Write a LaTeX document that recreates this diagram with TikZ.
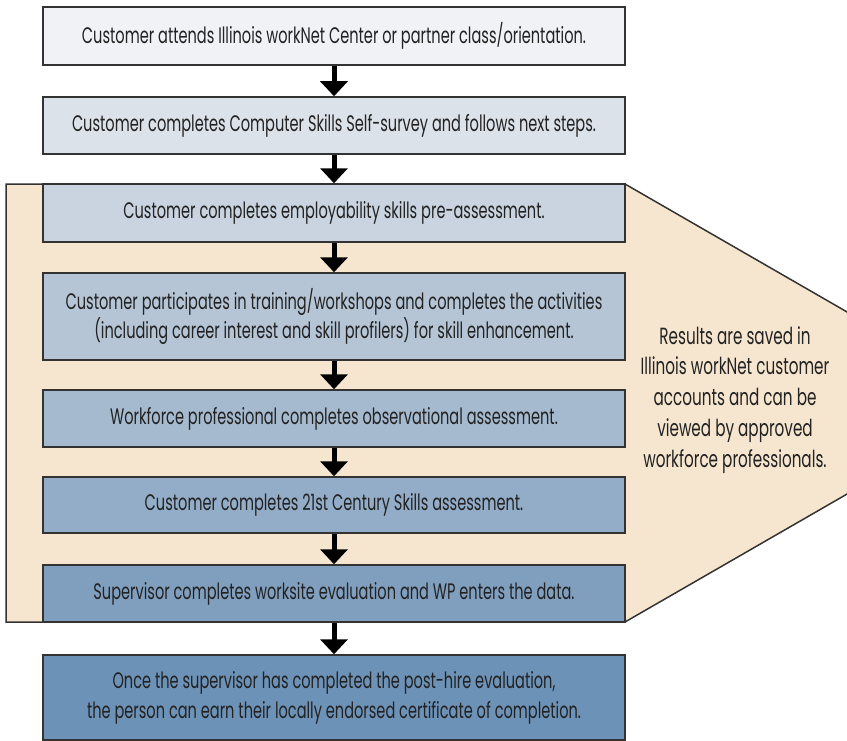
\documentclass[tikz,border=0pt]{standalone}
\usepackage{fontspec}
\setmainfont{Poppins}[FakeStretch=0.65]
\usetikzlibrary{arrows.meta}
\definecolor{tan}{HTML}{F6E6D0}
\definecolor{edge}{HTML}{333333}
\definecolor{ink}{HTML}{222222}
\definecolor{cA}{HTML}{F0F2F6}
\definecolor{cB}{HTML}{DCE2EA}
\definecolor{cC}{HTML}{C9D4E0}
\definecolor{cD}{HTML}{B5C5D6}
\definecolor{cE}{HTML}{A5BACF}
\definecolor{cF}{HTML}{93ADC8}
\definecolor{cG}{HTML}{809FBF}
\definecolor{cH}{HTML}{6D92B7}
\tikzset{
  stepbox/.style={draw=edge, line width=1.5bp, minimum width=582bp, inner sep=0pt,
    align=center, text=ink, font=\fontsize{22.5}{30}\selectfont},
  flowarrow/.style={draw=black, line width=5bp,
    -{Triangle[width=27bp,length=15bp]}},
}
\begin{document}
\begin{tikzpicture}[x=1bp,y=-1bp]
\useasboundingbox (0,0) rectangle (847,741);
\begin{scope}
\clip (0,0) rectangle (847,741);
\draw[fill=tan, draw=edge, line width=1.5bp] (6,184) -- (625,184) -- (1005,403) -- (625,622) -- (6,622) -- cycle;
\end{scope}
\node[stepbox, fill=cA, minimum height=58bp] (b1) at (334,36) {Customer attends Illinois workNet Center or partner class/orientation.};
\node[stepbox, fill=cB, minimum height=57bp] (b2) at (334,125.5) {Customer completes Computer Skills Self-survey and follows next steps.};
\node[stepbox, fill=cC, minimum height=58bp] (b3) at (334,213) {Customer completes employability skills pre-assessment.};
\node[stepbox, fill=cD, minimum height=87bp] (b4) at (334,316.5) {Customer participates in training/workshops and completes the activities\\(including career interest and skill profilers) for skill enhancement.};
\node[stepbox, fill=cE, minimum height=57bp] (b5) at (334,418.5) {Workforce professional completes observational assessment.};
\node[stepbox, fill=cF, minimum height=56bp] (b6) at (334,505) {Customer completes 21st Century Skills assessment.};
\node[stepbox, fill=cG, minimum height=57bp] (b7) at (334,593.5) {Supervisor completes worksite evaluation and WP enters the data.};
\node[stepbox, fill=cH, minimum height=85bp] (b8) at (334,697.5) {Once the supervisor has completed the post-hire evaluation,\\the person can earn their locally endorsed certificate of completion.};
\node[align=center, text=ink, font=\fontsize{23.5}{31}\selectfont] (note) at (735,400) {Results are saved in\\Illinois workNet customer\\accounts and can be\\viewed by approved\\workforce professionals.};
\draw[flowarrow] (b1) -- (b2);
\draw[flowarrow] (b2) -- (b3);
\draw[flowarrow] (b3) -- (b4);
\draw[flowarrow] (b4) -- (b5);
\draw[flowarrow] (b5) -- (b6);
\draw[flowarrow] (b6) -- (b7);
\draw[flowarrow] (b7) -- (b8);
\end{tikzpicture}
\end{document}
